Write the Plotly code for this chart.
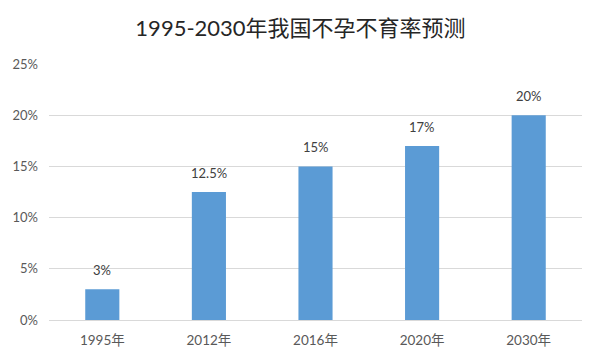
import plotly.graph_objects as go

categories = ["1995年", "2012年", "2016年", "2020年", "2030年"]
values = [0.03, 0.125, 0.15, 0.17, 0.20]
labels = ["3%", "12.5%", "15%", "17%", "20%"]
tick_vals = [0, 0.05, 0.10, 0.15, 0.20, 0.25]
tick_text = ["0%", "5%", "10%", "15%", "20%", "25%"]

FONT = "Lato, Noto Sans CJK SC, sans-serif"

fig = go.Figure()
fig.add_trace(go.Bar(x=categories, y=values, marker_color="#5B9BD5",
                     marker_line_width=0, hoverinfo="skip"))

for c, v, t in zip(categories, values, labels):
    fig.add_annotation(x=c, y=v, text=t, showarrow=False, yanchor="bottom",
                       yshift=9, font=dict(family=FONT, size=13, color="#404040"))

fig.update_layout(
    width=601, height=361,
    margin=dict(l=49, r=19, t=64, b=41, autoexpand=False),
    paper_bgcolor="white", plot_bgcolor="white",
    bargap=0.68,
    showlegend=False,
    title=dict(text="1995-2030年我国不孕不育率预测", x=0.5, xanchor="center",
               y=0.922, yanchor="middle",
               font=dict(family=FONT, size=22, color="#262626")),
    xaxis=dict(showgrid=False, showline=False, ticks="", automargin=False,
               tickfont=dict(family=FONT, size=13.5, color="#595959"),
               ticklabelstandoff=10),
    yaxis=dict(range=[0, 0.25], tickvals=tick_vals, ticktext=tick_text,
               showgrid=True, gridcolor="#D9D9D9", gridwidth=1,
               zeroline=True, zerolinecolor="#D9D9D9", zerolinewidth=1,
               showline=False, ticks="", automargin=False,
               tickfont=dict(family=FONT, size=13, color="#595959"),
               ticklabelstandoff=10),
)

fig.write_html("out.html", config={"displayModeBar": False},
               post_script="document.body.style.margin='0px';document.body.style.padding='0px';")
